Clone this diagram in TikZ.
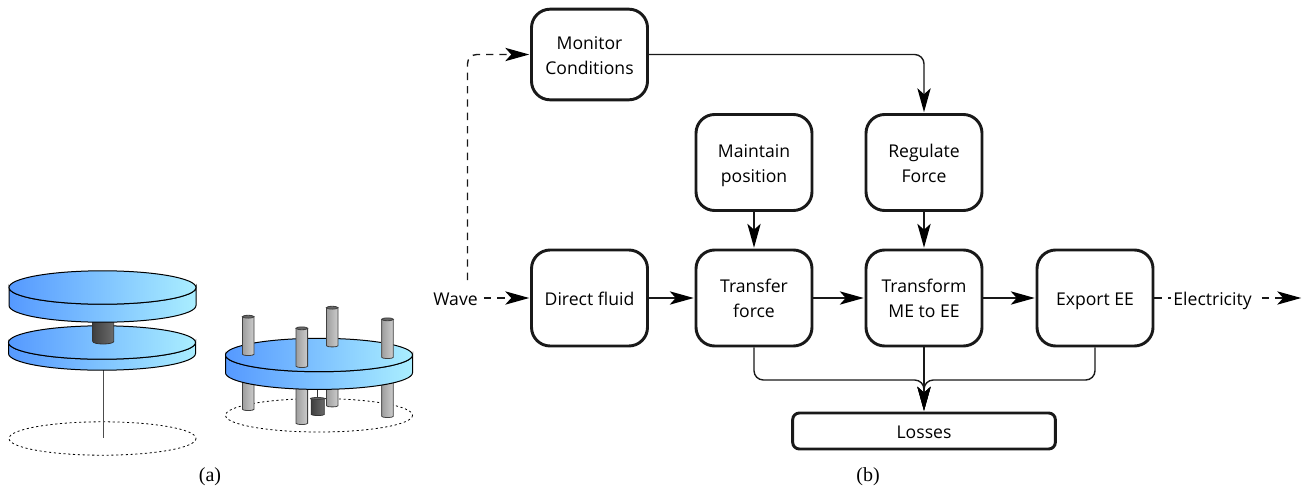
\documentclass[tikz,border=0pt]{standalone}
\usepackage{fontspec}
\setmainfont{Open Sans}
\newfontfamily\capfont{Liberation Serif}
\usetikzlibrary{arrows.meta,calc}
\definecolor{disklow}{RGB}{85,153,255}
\definecolor{diskhigh}{RGB}{170,238,255}
\tikzset{%
        auto,
        flow/.style = {
            -{Stealth[length=18pt,width=10pt,inset=4.5pt,color=black]},
            line width = 1.05pt,
            draw = black!90,
            rounded corners = 7pt,
            shorten > = 0.6pt
        },
        dashflow/.style = {
            flow,
            dashed,
            dash pattern = on 5.5pt off 4.5pt
        },
        plainline/.style = {
            line width = 1.05pt,
            draw = black!90,
            dashed,
            dash pattern = on 5.5pt off 4.5pt
        },
        disk/.style = {
            draw = black,
            line width = 0.75pt,
            left color = disklow,
            right color = diskhigh
        },
        rod/.style = {
            draw = black!75,
            line width = 0.6pt,
            left color = black!38,
            right color = black!20
        },
        rodcap/.style = {
            draw = black!75,
            line width = 0.6pt,
            fill = black!60
        },
        weight/.style = {
            draw = black!80,
            line width = 0.6pt,
            left color = black!75,
            right color = black!58
        },
        sweep/.style = {
            draw = black,
            line width = 0.6pt,
            dash pattern = on 1.6pt off 2pt
        },
        oneline/.style = {
            text height = 12pt,
            text depth = 1.5pt
        }
}
\tikzstyle{every block}=[
    draw = black!90,
    line width = 2.2pt,
    rounded corners = 14pt,
    align = center,
    inner sep = 0pt,
    font = \fontsize{13.2}{18.75}\selectfont
]
\newcommand{\drawdisk}[4]{% center x, center y, half height, depth
    \path[disk] (#1-93.5,#2) -- (#1-93.5,#2+#4)
        arc[start angle=180,end angle=0,x radius=93.5,y radius=#3]
        -- (#1+93.5,#2)
        arc[start angle=0,end angle=180,x radius=93.5,y radius=#3] -- cycle;
    \path[disk] (#1,#2) ellipse[x radius=93.5,y radius=#3];
}
\newcommand{\twolines}[2]{\rule{0pt}{14pt}#1\\#2\rule[-3pt]{0pt}{3pt}}
\begin{document}
\begin{tikzpicture}[x=0.75pt,y=-0.75pt]
        \useasboundingbox (0,0) rectangle (1308,492);
        % left unit
        \path[sweep] (102.5,438.5) ellipse[x radius=93.5,y radius=16.7];
        \draw[black!70,line width=0.75pt] (103.5,370) -- (103.5,438);
        \drawdisk{102}{342.5}{16.7}{11}
        \path[weight] (92.7,320) -- (92.7,341.5) arc[start angle=180,end angle=0,x radius=10.5,y radius=2.5] -- (113.7,320) -- cycle;
        \drawdisk{102.5}{287.5}{16.7}{18}
        % right unit
        \path[sweep] (319,415.3) ellipse[x radius=93.5,y radius=16.7];
        \foreach \px/\pbot in {332.2/406.7, 248.2/410.3, 387.5/417.3, 301.8/424.3} {
            \path[rod] (\px-5.8,380) -- (\px-5.8,\pbot-1) arc[start angle=180,end angle=0,x radius=5.8,y radius=1.2] -- (\px+5.8,380) -- cycle;
        }
        \draw[black!80,line width=0.75pt] (317.7,385) -- (317.7,399);
        \path[weight] (311.3,398.5) -- (311.3,414.5) arc[start angle=180,end angle=0,x radius=6.5,y radius=1] -- (324.3,398.5) -- cycle;
        \path[rodcap] (317.6,398.5) ellipse[x radius=7,y radius=1];
        \drawdisk{319}{355}{16.7}{17.7}
        \foreach \px/\ptop/\pbot in {248.2/316.7/355.3, 301.8/328.3/367.3, 332.2/307.7/346.7, 387.5/319.3/358.3} {
            \path[rod] (\px-5.8,\ptop) -- (\px-5.8,\pbot-1) arc[start angle=180,end angle=0,x radius=5.8,y radius=1.2] -- (\px+5.8,\ptop) -- cycle;
            \path[rodcap] (\px,\ptop) ellipse[x radius=5.8,y radius=1.4];
        }
        \node[font=\capfont\fontsize{15}{17}\selectfont] (capa) at (210,477) {(a)};
        % function blocks
        \node[every block,minimum width=87pt,minimum height=68pt] (monitor) at (589.5,54.5) {\twolines{Monitor}{Conditions}};
        \node[every block,minimum width=87pt,minimum height=72pt] (maintain) at (754,162.5) {\twolines{Maintain}{position}};
        \node[every block,minimum width=87pt,minimum height=72pt] (regulate) at (924,162.5) {\twolines{Regulate}{Force}};
        \node[every block,minimum width=87pt,minimum height=72pt,oneline] (direct) at (589.5,298) {Direct fluid};
        \node[every block,minimum width=87pt,minimum height=72pt] (transfer) at (754,298) {\twolines{Transfer}{force}};
        \node[every block,minimum width=87pt,minimum height=72pt] (transform) at (924,298) {\twolines{Transform}{ME to EE}};
        \node[every block,minimum width=87pt,minimum height=72pt,oneline] (export) at (1095,298) {Export EE};
        \node[every block,minimum width=197pt,minimum height=27pt,rounded corners=5pt,oneline] (losses) at (924,431) {Losses};
        \node[font=\fontsize{13.2}{16}\selectfont,inner sep=1.5pt,oneline] (wave) at (455.5,298) {Wave};
        \node[font=\fontsize{13.2}{16}\selectfont,inner sep=1.5pt,oneline] (electricity) at (1212.5,298) {Electricity};
        \node[font=\capfont\fontsize{15}{17}\selectfont] (capb) at (868,477) {(b)};
        \coordinate (merge) at (924,380);
        \coordinate (out) at (1302,298);
        % connections
        \draw[dashflow] ([xshift=3pt]wave.east) -- (direct.west);
        \draw[dashflow] ([xshift=9pt,yshift=5pt]wave.north) |- (monitor.west);
        \draw[plainline] (export.east) -- (electricity.west);
        \draw[dashflow] ([xshift=6pt]electricity.east) -- (out);
        \draw[flow] (monitor.east) -| (regulate.north);
        \draw[flow] (maintain.south) -- (transfer.north);
        \draw[flow] (regulate.south) -- (transform.north);
        \draw[flow] (direct.east) -- (transfer.west);
        \draw[flow] (transfer.east) -- (transform.west);
        \draw[flow] (transform.east) -- (export.west);
        \draw[flow] (transform.south) -- (losses.north);
        \draw[flow] (transfer.south) |- (merge) -- (losses.north);
        \draw[flow] (export.south) |- (merge) -- (losses.north);
\end{tikzpicture}
\end{document}
